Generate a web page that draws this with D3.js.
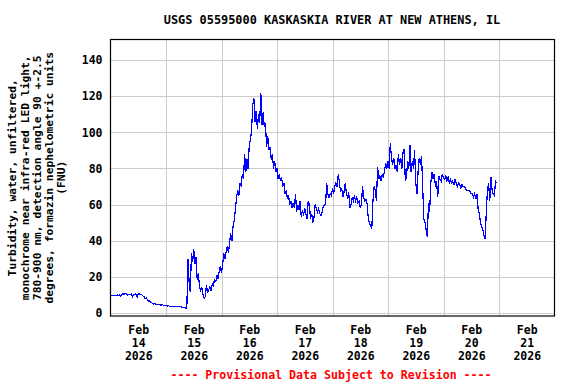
<!DOCTYPE html>
<html>
<head>
<meta charset="utf-8">
<script src="https://cdn.jsdelivr.net/npm/d3@7"></script>
<style>
  html, body { margin: 0; padding: 0; background: #fff; }
  svg { display: block; }
  text { font-family: "DejaVu Sans Mono", "Liberation Mono", monospace; font-weight: bold; }
</style>
</head>
<body>
<svg id="chart" width="576" height="384"></svg>
<script>
// ---- Data ----
const chartTitle = "USGS 05595000 KASKASKIA RIVER AT NEW ATHENS, IL";
const yLabelLines = [
  "Turbidity, water, unfiltered,",
  "monochrome near infra-red LED light,",
  "780-900 nm, detection angle 90 +-2.5",
  "degrees, formazin nephelometric units",
  "(FNU)"
];
const footerText = "---- Provisional Data Subject to Revision ----";
const yTicks = [0, 20, 40, 60, 80, 100, 120, 140];
const dayTicks = ["2026-02-14", "2026-02-15", "2026-02-16", "2026-02-17", "2026-02-18", "2026-02-19", "2026-02-20", "2026-02-21"];
const dayLabels = [["Feb", "14", "2026"], ["Feb", "15", "2026"], ["Feb", "16", "2026"], ["Feb", "17", "2026"],
                   ["Feb", "18", "2026"], ["Feb", "19", "2026"], ["Feb", "20", "2026"], ["Feb", "21", "2026"]];
const seriesStart = "2026-02-14T00:00:00Z";
const seriesEnd = "2026-02-22T00:00:00Z";
const stepMinutes = 30;
// turbidity (FNU), half-hourly readings from Feb 14 00:00
const turbidity = [
  9.8, 9.9, 9.9, 9.8, 9.9, 9.8, 9.9, 9.6, 10.0, 9.2,
  10.4, 10.6, 10.4, 10.7, 10.5, 9.8, 10.5, 10.3, 10.6, 9.0,
  10.3, 10.4, 10.5, 8.7, 10.4, 10.6, 10.4, 10.2, 9.5, 9.0,
  8.0, 8.4, 7.2, 6.5, 6.8, 5.8, 5.5, 5.0, 5.3, 4.9,
  4.7, 4.6, 4.8, 4.5, 4.4, 4.5, 4.3, 4.2, 4.0, 3.9,
  4.0, 3.8, 3.8, 3.7, 3.8, 3.7, 3.7, 3.6, 3.6, 3.5,
  3.6, 3.4, 3.2, 3.1, 3.0, 2.7, 2.5, 29.6, 17, 11.5,
  33, 28, 35.5, 27, 31, 18.5, 22, 14, 12.5, 14,
  10, 8.3, 9, 15.7, 11, 13, 14.5, 12.5, 16, 15,
  19, 17, 21, 19, 23, 26, 22, 27, 33, 30,
  34, 37, 33, 39, 44, 40, 48, 51, 57, 64,
  68, 65, 72, 70, 77, 74, 88, 78, 85, 80,
  93, 96, 101, 115, 119, 106, 112, 102, 110, 105,
  122, 104, 111, 103, 105, 92, 98, 90, 92, 85,
  88, 80, 84, 78, 80, 74, 77, 73, 75, 70,
  72, 66, 68, 63, 65, 60, 62, 58, 61, 58,
  66, 56, 60, 57, 62, 53, 57, 54, 58, 55,
  52, 62, 60, 52, 55, 50, 53, 60, 58, 56,
  58, 55, 54, 56, 59, 60, 60, 72, 66, 64,
  66, 65, 69, 66, 70, 72, 70, 77, 72, 67,
  69, 64, 67, 72, 66, 64, 67, 58, 60, 64,
  62, 65, 62, 64, 61, 62, 58, 60, 70, 64,
  62, 63, 60, 52, 50, 48, 47, 62, 70, 68,
  62, 81, 74, 76, 73, 77, 75, 79, 83, 80,
  84, 80, 94, 86, 82, 86, 80, 82, 78, 88,
  82, 86, 80, 89, 91, 73, 76, 84, 80, 93,
  78, 84, 80, 90, 72, 66, 78, 86, 82, 87,
  70, 52, 50, 46, 42, 61, 56, 72, 78, 74,
  77, 70, 73, 64, 76, 74, 73, 77, 75, 74,
  76, 73, 75, 72, 74, 72, 73, 71, 74, 72,
  70, 72, 71, 69, 71, 70, 70, 69, 68, 68,
  68, 67, 66, 66, 64, 66, 63, 66, 57, 55,
  50, 48, 46, 43, 41, 56, 68, 72, 62, 75,
  68, 66, 65, 73, 72
];

// ---- Layout ----
const plot = { left: 110.5, top: 39.5, right: 554.5, bottom: 316 };
const W = plot.right - plot.left, H = plot.bottom - plot.top;

const svg = d3.select("#chart");
const t0 = new Date(seriesStart);
const data = turbidity.map((v, i) => ({ t: new Date(t0.getTime() + i * stepMinutes * 60000), v }));

const x = d3.scaleUtc().domain([new Date(seriesStart), new Date(seriesEnd)]).range([plot.left, plot.right]);
const y = d3.scaleLinear().domain([-1.66, 151.4]).range([plot.bottom, plot.top]);

const midnights = dayTicks.slice(1).map(d => new Date(d + "T00:00:00Z"));
const noons = dayTicks.map(d => new Date(d + "T12:00:00Z"));

// grid
const gy = svg.append("g").attr("transform", `translate(${plot.left},0)`)
  .call(d3.axisLeft(y).tickValues(yTicks).tickSize(-W).tickFormat(""));
gy.select(".domain").remove();
gy.selectAll("line").attr("stroke", "#cccccc").attr("stroke-width", 1)
  .attr("shape-rendering", "crispEdges");

const gx = svg.append("g").attr("transform", `translate(0,${plot.bottom})`)
  .call(d3.axisBottom(x).tickValues(midnights).tickSize(-H).tickFormat(""));
gx.select(".domain").remove();
gx.selectAll("line").attr("stroke", "#cccccc").attr("stroke-width", 1)
  .attr("shape-rendering", "crispEdges");

// line
const clipId = "plotclip";
svg.append("clipPath").attr("id", clipId).append("rect")
  .attr("x", plot.left).attr("y", plot.top).attr("width", W).attr("height", H);
svg.append("path").datum(data)
  .attr("clip-path", `url(#${clipId})`)
  .attr("fill", "none").attr("stroke", "#0000ff").attr("stroke-width", 1.2)
  .attr("shape-rendering", "crispEdges")
  .attr("d", d3.line().x(d => x(d.t)).y(d => y(d.v)));

// frame
svg.append("rect").attr("x", plot.left).attr("y", plot.top).attr("width", W).attr("height", H)
  .attr("fill", "none").attr("stroke", "#000").attr("stroke-width", 1.2);

// y tick labels
const ya = svg.append("g").attr("transform", `translate(${plot.left},0)`)
  .call(d3.axisLeft(y).tickValues(yTicks).tickSize(0).tickPadding(8).tickFormat(d3.format("d")));
ya.select(".domain").remove();
ya.selectAll("text").attr("font-size", "11.5px").attr("fill", "#000")
  .style("font-family", '"DejaVu Sans Mono", monospace').style("font-weight", "bold");

// x tick labels (three lines)
const xa = svg.append("g").attr("transform", `translate(0,${plot.bottom})`)
  .call(d3.axisBottom(x).tickValues(noons).tickSize(0).tickFormat(""));
xa.select(".domain").remove();
xa.selectAll(".tick").each(function(d, i) {
  const tx = d3.select(this).select("text").attr("y", 0).attr("dy", null)
    .attr("font-size", "11.5px").attr("fill", "#000")
    .style("font-family", '"DejaVu Sans Mono", monospace').style("font-weight", "bold");
  dayLabels[i].forEach((s, k) => {
    tx.append("tspan").attr("x", 0).attr("y", 14 + k * 12.8).attr("dy", "0.35em").text(s);
  });
});

// title
svg.append("text").attr("x", 332).attr("y", 20).attr("dy", "0.35em")
  .attr("text-anchor", "middle").attr("font-size", "11.9px").attr("fill", "#000")
  .text(chartTitle);

// y label
const yl = svg.append("g");
yLabelLines.forEach((s, k) => {
  yl.append("text")
    .attr("transform", `translate(${12.5 + k * 12.2},${(plot.top + plot.bottom) / 2}) rotate(-90)`)
    .attr("text-anchor", "middle").attr("dy", "0.35em")
    .attr("font-size", "11.3px").attr("fill", "#000").text(s);
});

// footer
svg.append("text").attr("x", 331).attr("y", 375).attr("dy", "0.35em")
  .attr("text-anchor", "middle").attr("font-size", "11.6px").attr("fill", "#ff0000")
  .text(footerText);
</script>
</body>
</html>
